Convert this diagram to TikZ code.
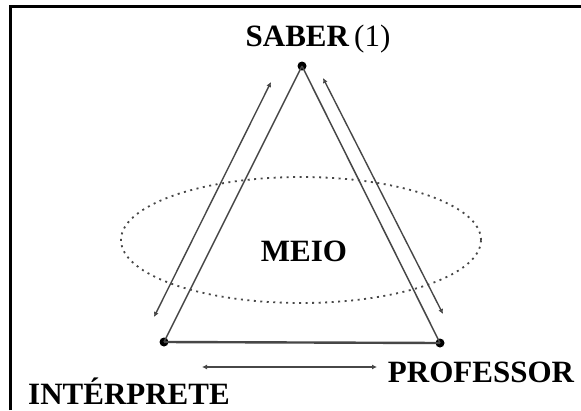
\documentclass[tikz,border=0pt]{standalone}
\usepackage{fontspec}
\setmainfont{Liberation Serif}
\usetikzlibrary{arrows.meta,shapes.geometric}
\begin{document}
\begin{tikzpicture}[x=1pt,y=-1pt,
  lbl/.style={font=\fontsize{31}{36}\selectfont\bfseries, inner sep=0pt, text depth=0pt, anchor=base},
  side/.style={draw=black!72, line width=1.5pt},
  twoway/.style={draw=black!72, line width=1.4pt, {Latex[length=5pt,width=5pt]}-{Latex[length=5pt,width=5pt]}},
  vdot/.style={circle, fill=black, inner sep=0pt, minimum size=9pt}]
\useasboundingbox (0,0) rectangle (581,410);
\fill[white] (0,0) rectangle (581,410);
% frame (top and left edges)
\draw[line width=3pt] (10,410) -- (10,6.5) -- (581,6.5);
% vertices
\node[vdot] (S) at (302,66) {};
\node[vdot] (I) at (164,342) {};
\node[vdot] (P) at (440,343) {};
% environment
\node[draw=black!72, dash pattern=on 2pt off 4.5pt, line width=1.8pt, ellipse, minimum width=360pt, minimum height=126pt] (M) at (301,240) {};
% triangle
\draw[side] (S.center) -- (I.center);
\draw[side] (S.center) -- (P.center);
\draw[draw=black!72, line width=2.4pt] (I.center) -- (P.center);
% arrows
\coordinate (a1) at (271,82);
\coordinate (a2) at (154,317);
\coordinate (b1) at (323,78);
\coordinate (b2) at (443,314);
\coordinate (c1) at (202,367);
\coordinate (c2) at (377,367);
\draw[twoway] (a1) -- (a2);
\draw[twoway] (b1) -- (b2);
\draw[twoway] (c1) -- (c2);
% labels
\node[lbl] (tS) at (318,46) {SABER\,{\mdseries(1)}};
\node[lbl] (tM) at (304,261) {MEIO};
\node[lbl] (tP) at (481,382) {PROFESSOR};
\node[lbl] (tI) at (129,404) {INTÉRPRETE};
\end{tikzpicture}
\end{document}
